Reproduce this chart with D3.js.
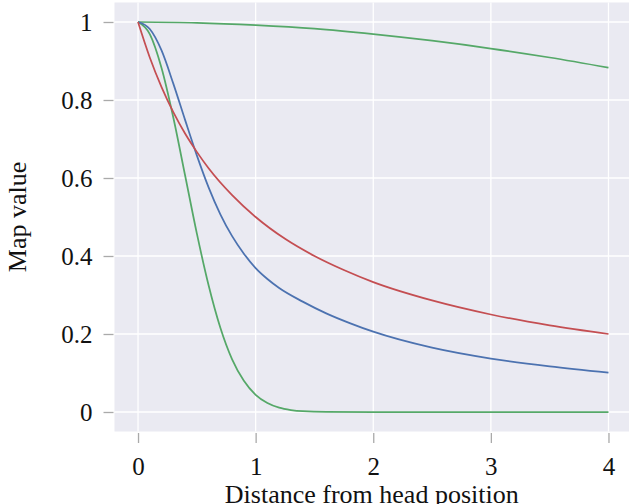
<!DOCTYPE html>
<html>
<head>
<meta charset="utf-8">
<script src="https://cdn.jsdelivr.net/npm/d3@7"></script>
<style>
  body { margin: 0; background: #fff; }
  svg { display: block; }
</style>
</head>
<body>
<svg width="629" height="504"></svg>
<script>
// values
const xTicks = [0, 1, 2, 3, 4]
const yTicks = [0, 0.2, 0.4, 0.6, 0.8, 1]

const redX = [0, 0.1, 0.2, 0.3, 0.4, 0.5, 0.6, 0.8, 1, 1.25, 1.5, 1.75, 2, 2.5, 3, 3.5, 4]
const redY = [1, 0.909, 0.833, 0.769, 0.714, 0.667, 0.625, 0.556, 0.5, 0.444, 0.4, 0.364, 0.333, 0.286, 0.25, 0.222, 0.2]

const blueX = [0, 0.1, 0.2, 0.3, 0.4, 0.5, 0.6, 0.7, 0.8, 0.9, 1, 1.1, 1.2, 1.4, 1.6, 1.8, 2, 2.5, 3, 3.5, 4]
const blueY = [1, 0.982, 0.927, 0.842, 0.749, 0.658, 0.576, 0.507, 0.451, 0.406, 0.369, 0.341, 0.318, 0.283, 0.253, 0.228, 0.206, 0.165, 0.137, 0.117, 0.101]

const greenX = [0, 0.1, 0.2, 0.3, 0.4, 0.5, 0.6, 0.7, 0.8, 0.9, 1, 1.1, 1.2, 1.3, 1.4, 1.6, 2, 3, 4]
const greenY = [1, 0.969, 0.882, 0.755, 0.607, 0.458, 0.325, 0.216, 0.135, 0.08, 0.044, 0.023, 0.011, 0.005, 0.002, 0.0003, 0, 0, 0]

const flatX = [0, 0.5, 1, 1.5, 2, 2.5, 3, 3.5, 4]
const flatY = [1, 0.998, 0.992, 0.983, 0.969, 0.952, 0.932, 0.909, 0.883]

const serif = "'Liberation Serif', 'Times New Roman', serif"
const svg = d3.select("svg")
const pLeft = 114.5, pRight = 632, pTop = 2.5, pBottom = 431.5

const x = d3.scaleLinear().domain([-0.2, 4.2]).range([pLeft, pRight])
const y = d3.scaleLinear().domain([-0.05, 1.05]).range([pBottom, pTop])

svg.append("rect")
  .attr("x", pLeft).attr("y", pTop)
  .attr("width", pRight - pLeft).attr("height", pBottom - pTop)
  .attr("fill", "#eaeaf2")

// grid
const grid = svg.append("g")
grid.selectAll(".gx").data(xTicks).enter().append("line")
  .attr("x1", d => x(d)).attr("x2", d => x(d))
  .attr("y1", pTop).attr("y2", pBottom)
  .attr("stroke", "#fff").attr("stroke-width", 1.3)
grid.selectAll(".gy").data(yTicks).enter().append("line")
  .attr("y1", d => y(d)).attr("y2", d => y(d))
  .attr("x1", pLeft).attr("x2", pRight)
  .attr("stroke", "#fff").attr("stroke-width", 1.3)

// axes
const xAxis = svg.append("g")
  .attr("transform", "translate(0," + (pBottom + 1.5) + ")")
  .call(d3.axisBottom(x).tickValues(xTicks).tickSize(10).tickPadding(14).tickFormat(d3.format("")))
const yAxis = svg.append("g")
  .attr("transform", "translate(" + (pLeft - 1) + ",0)")
  .call(d3.axisLeft(y).tickValues(yTicks).tickSize(10).tickPadding(11).tickFormat(d => String(d)))

svg.selectAll(".domain").remove()
svg.selectAll(".tick line").attr("stroke", "#aaaaaa").attr("stroke-width", 1.3)
svg.selectAll(".tick text")
  .style("font-family", serif)
  .style("font-size", "25px")
  .attr("fill", "#111")
yAxis.selectAll(".tick text").attr("dy", "0.34em")

// curves
const series = [
  { xs: flatX, ys: flatY, color: "#55a868" },
  { xs: greenX, ys: greenY, color: "#55a868" },
  { xs: blueX, ys: blueY, color: "#4c72b0" },
  { xs: redX, ys: redY, color: "#c44e52" }
]
const line = d3.line()
  .x(d => x(d[0])).y(d => y(d[1]))
  .curve(d3.curveMonotoneX)

svg.selectAll(".curve").data(series).enter().append("path")
  .attr("d", s => line(s.xs.map((v, i) => [v, s.ys[i]])))
  .attr("fill", "none")
  .attr("stroke", s => s.color)
  .attr("stroke-width", 1.75)

// labels
svg.append("text")
  .attr("x", (pLeft + 629) / 2).attr("y", 503)
  .attr("text-anchor", "middle")
  .style("font-family", serif).style("font-size", "26px")
  .attr("fill", "#111")
  .text("Distance from head position")

svg.append("text")
  .attr("transform", "translate(26," + ((pTop + pBottom) / 2) + ") rotate(-90)")
  .attr("text-anchor", "middle")
  .style("font-family", serif).style("font-size", "26px")
  .attr("fill", "#111")
  .text("Map value")
</script>
</body>
</html>
